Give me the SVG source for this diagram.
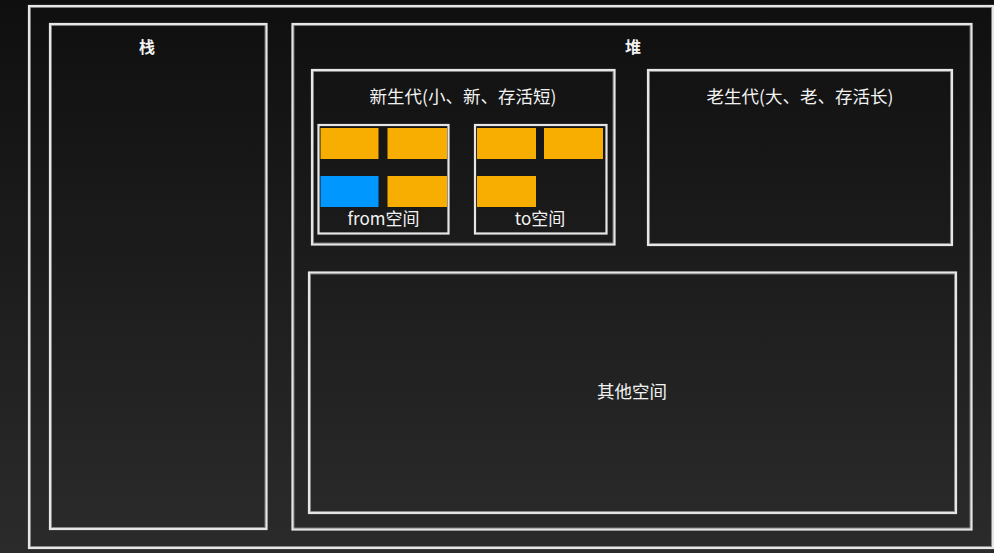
<svg xmlns="http://www.w3.org/2000/svg" width="994" height="553" viewBox="0 0 994 553">
<defs>
<linearGradient id="bg" x1="0" y1="0" x2="0" y2="1">
<stop offset="0" stop-color="#0f0f0f"/>
<stop offset="1" stop-color="#2b2b2b"/>
</linearGradient>
</defs>
<style>
.box{fill:none;stroke:#e6e6e6;stroke-width:2.2}
.box2{fill:none;stroke:#ffffff;stroke-width:0.8;opacity:0.5}
.t{font-family:"Noto Sans CJK SC","Noto Sans",sans-serif;fill:#f2f2f2;text-anchor:middle}
.tb{font-weight:bold;font-size:16px}
.tm{font-size:17.5px}
.ts{font-size:17px}
.or{fill:#f7ae00}
.bl{fill:#0098ff}
</style>
<rect x="0" y="0" width="994" height="553" fill="url(#bg)"/>
<g id="outer">
<rect class="box" x="29" y="6" width="964" height="542"/>
<rect class="box2" x="30.5" y="7.5" width="961" height="539"/>
</g>
<g id="stack">
<rect class="box" x="50" y="24" width="216.5" height="505"/>
<rect class="box2" x="51.5" y="25.5" width="213.5" height="502"/>
<text class="t tb" x="147" y="53">栈</text>
</g>
<g id="heap">
<rect class="box" x="292.5" y="24" width="679" height="505.5"/>
<rect class="box2" x="294" y="25.5" width="676" height="502.5"/>
<text class="t tb" x="633" y="53">堆</text>
</g>
<g id="young">
<rect class="box" x="312" y="70" width="302.5" height="174.5"/>
<rect class="box2" x="313.5" y="71.5" width="299.5" height="171.5"/>
<text class="t tm" x="463" y="103">新生代(小、新、存活短)</text>
</g>
<g id="from">
<rect class="box" x="318.5" y="125" width="130" height="108.5"/>
<rect class="or" x="320.5" y="128" width="58" height="31"/>
<rect class="or" x="387.5" y="128" width="59.5" height="31"/>
<rect class="bl" x="320.5" y="176" width="58" height="31"/>
<rect class="or" x="387.5" y="176" width="59.5" height="31"/>
<text class="t ts" x="383.5" y="225">from空间</text>
</g>
<g id="to">
<rect class="box" x="475" y="125" width="131.5" height="108.5"/>
<rect class="or" x="477" y="128" width="59" height="31"/>
<rect class="or" x="544" y="128" width="59" height="31"/>
<rect class="or" x="477" y="176" width="59" height="31"/>
<text class="t ts" x="540" y="225">to空间</text>
</g>
<g id="old">
<rect class="box" x="648" y="70" width="304" height="175"/>
<rect class="box2" x="649.5" y="71.5" width="301" height="172"/>
<text class="t tm" x="800" y="103">老生代(大、老、存活长)</text>
</g>
<g id="other">
<rect class="box" x="309" y="272.5" width="647" height="240.5"/>
<rect class="box2" x="310.5" y="274" width="644" height="237.5"/>
<text class="t tm" x="632" y="398">其他空间</text>
</g>
<g id="connectors"></g>
</svg>
